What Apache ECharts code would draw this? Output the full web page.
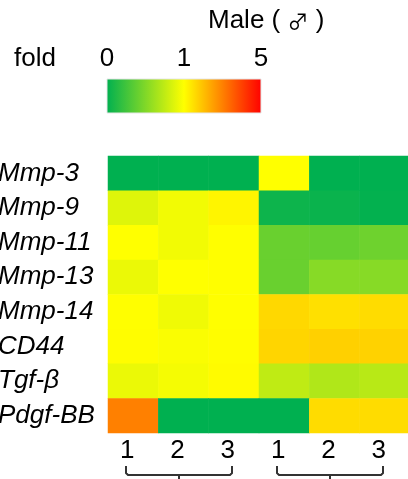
<!DOCTYPE html>
<html>
<head>
<meta charset="utf-8">
<script src="https://cdn.jsdelivr.net/npm/echarts@6/dist/echarts.min.js"></script>
<style>html,body{margin:0;padding:0;background:#fff}#c{width:408px;height:479px}</style>
</head>
<body>
<div id="c"></div>
<script>
// ---- data ----
const rowLabels = ['Mmp-3','Mmp-9','Mmp-11','Mmp-13','Mmp-14','CD44','Tgf-β','Pdgf-BB'];
const colGroups = ['A','A','A','B','B','B'];
const colLabels = ['1','2','3','1','2','3'];
const foldMmp3   = [0.00, 0.00, 0.00, 1.00, 0.00, 0.00];
const foldMmp9   = [0.87, 0.95, 1.15, 0.05, 0.04, 0.01];
const foldMmp11  = [1.00, 0.95, 1.02, 0.41, 0.40, 0.43];
const foldMmp13  = [0.92, 1.00, 1.02, 0.41, 0.53, 0.53];
const foldMmp14  = [1.02, 0.94, 1.02, 1.61, 1.49, 1.55];
const foldCD44   = [1.03, 0.98, 1.03, 1.66, 1.74, 1.70];
const foldTgfb   = [0.92, 0.96, 1.06, 0.75, 0.69, 0.72];
const foldPdgfBB = [3.00, 0.00, 0.00, 0.00, 1.55, 1.55];
const foldRows = [foldMmp3, foldMmp9, foldMmp11, foldMmp13, foldMmp14, foldCD44, foldTgfb, foldPdgfBB];
const legendTicks = ['0','1','5'];
const legendTitle = 'fold';
const titleWord = 'Male';
const titleSymbol = '♂';

// colour scale: 0 -> green, 1 -> yellow, 5 -> red (stops evenly placed)
function scalePos(v){ return v <= 1 ? v : 1 + (v - 1) / 4; }

const data = [];
foldRows.forEach((row, r) => row.forEach((v, c) => data.push([c, r, v, scalePos(v)])));

const FONT = 'Liberation Sans';
const FS = 26;
const GREEN = '#00B050', YELLOW = '#FFFF00', RED = '#FF0000';

const chart = echarts.init(document.getElementById('c'), null, {renderer:'canvas'});
const option = {
  animation: false,
  backgroundColor: '#fff',
  grid: {left: 108, top: 156, width: 302, height: 277, containLabel: false, outerBoundsMode: 'none'},
  xAxis: {
    type: 'category',
    data: colLabels.map((l, i) => colGroups[i] + l),
    axisLine: {show: false}, axisTick: {show: false}, splitLine: {show: false},
    axisLabel: {
      formatter: (v, i) => colLabels[i],
      fontFamily: FONT, fontSize: FS, color: '#000', margin: 5,
      padding: [0, 12, 0, 0]
    }
  },
  yAxis: {
    type: 'category',
    data: rowLabels,
    inverse: true,
    axisLine: {show: false}, axisTick: {show: false}, splitLine: {show: false},
    axisLabel: {
      fontFamily: FONT, fontSize: FS, fontStyle: 'italic', color: '#000',
      align: 'left', margin: 110
    }
  },
  visualMap: {
    show: false, type: 'continuous', dimension: 3, min: 0, max: 2,
    inRange: {color: [GREEN, YELLOW, RED]}
  },
  series: [{
    type: 'heatmap',
    data: data,
    itemStyle: {borderWidth: 0},
    emphasis: {disabled: true}
  }],
  graphic: []
};
chart.setOption(option);

// legend + brackets
const g = [];
g.push({type:'text', left: 208, top: 8, style:{
  text: titleWord + ' ( {s|' + titleSymbol + '} )',
  font: FS + 'px "Liberation Sans"', fill:'#000',
  rich: {s: {fontFamily: 'Noto Sans CJK JP', fontSize: 21, fill: '#000'}}
}});
g.push({type:'text', x: 14, y: 59, style:{text: legendTitle, font: FS + 'px "Liberation Sans"', fill:'#000', verticalAlign:'middle', align:'left'}});
const barX = 107, barW = 154, barY = 79, barH = 34;
legendTicks.forEach((t, i) => {
  g.push({type:'text', x: barX + barW * i / (legendTicks.length - 1), y: 59,
    style:{text: t, font: FS + 'px "Liberation Sans"', fill:'#000', align:'center', verticalAlign:'middle'}});
});
g.push({type:'rect', shape:{x: barX, y: barY, width: barW, height: barH},
  style:{fill: new echarts.graphic.LinearGradient(0,0,1,0,[{offset:0,color:GREEN},{offset:0.5,color:YELLOW},{offset:1,color:RED}]), stroke:'#e6e6e6', lineWidth:1}});

const groups = [...new Set(colGroups)];
groups.forEach(gr => {
  const idx = colGroups.map((x,i)=>x===gr?i:-1).filter(i=>i>=0);
  const L = Math.round(chart.convertToPixel({gridIndex:0}, [idx[0], 0])[0] - 7);
  const R = Math.round(chart.convertToPixel({gridIndex:0}, [idx[idx.length-1], 0])[0] - 2);
  const M = Math.round((L + R) / 2);
  g.push({type:'polyline', shape:{points:[[L,466],[L,473],[L+2,475],[R-2,475],[R,473],[R,466]]}, style:{stroke:'#333', lineWidth:2, fill:null}});
  g.push({type:'line', shape:{x1:M, y1:475, x2:M, y2:482}, style:{stroke:'#333', lineWidth:2}});
});
chart.setOption({graphic: g});
</script>
</body>
</html>
